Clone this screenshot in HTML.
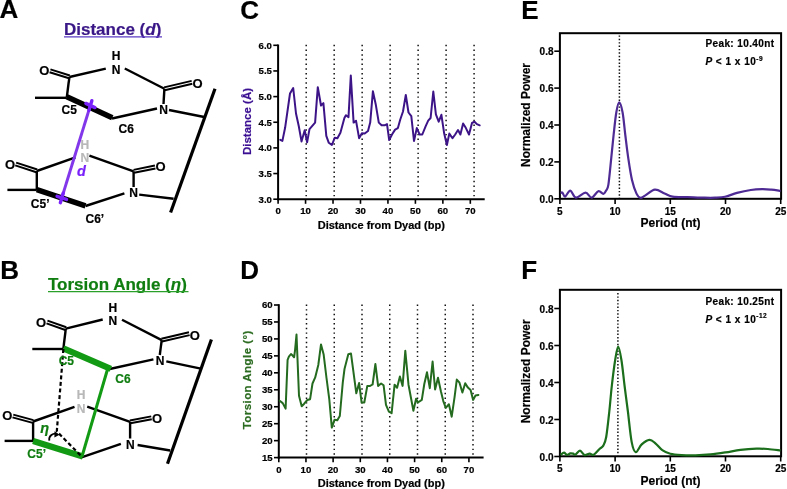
<!DOCTYPE html>
<html><head><meta charset="utf-8"><style>
html,body{margin:0;padding:0;background:#fff;}
svg{display:block;font-family:"Liberation Sans", sans-serif;will-change:transform;}

</style></head><body>
<svg width="787" height="489" viewBox="0 0 787 489">
<rect width="787" height="489" fill="#fff"/>
<text x="-0.40" y="18.30" font-size="26" font-weight="bold" fill="#000" stroke="#000" stroke-width="0.2" text-anchor="start" >A</text>
<text x="0.30" y="279.00" font-size="26" font-weight="bold" fill="#000" stroke="#000" stroke-width="0.2" text-anchor="start" >B</text>
<text x="240.30" y="18.60" font-size="26" font-weight="bold" fill="#000" stroke="#000" stroke-width="0.2" text-anchor="start" >C</text>
<text x="240.30" y="278.60" font-size="26" font-weight="bold" fill="#000" stroke="#000" stroke-width="0.2" text-anchor="start" >D</text>
<text x="521.30" y="18.60" font-size="26" font-weight="bold" fill="#000" stroke="#000" stroke-width="0.2" text-anchor="start" >E</text>
<text x="521.30" y="278.80" font-size="26" font-weight="bold" fill="#000" stroke="#000" stroke-width="0.2" text-anchor="start" >F</text>
<text x="64.00" y="35.00" font-size="17" font-weight="bold" fill="#3a1787" stroke="#3a1787" stroke-width="0.2" text-anchor="start" >Distance (<tspan font-style="italic">d</tspan>)</text>
<line x1="64.00" y1="36.80" x2="162.00" y2="36.80" stroke="#5b3bc4" stroke-width="1.3" />
<line x1="50.43" y1="69.42" x2="69.83" y2="75.52" stroke="#000" stroke-width="2.0" />
<line x1="49.57" y1="72.18" x2="68.97" y2="78.28" stroke="#000" stroke-width="2.0" />
<line x1="69.40" y1="77.00" x2="105.80" y2="68.60" stroke="#000" stroke-width="2.4" />
<line x1="124.80" y1="68.50" x2="164.40" y2="88.80" stroke="#000" stroke-width="2.4" />
<line x1="164.07" y1="87.39" x2="191.67" y2="80.89" stroke="#000" stroke-width="2.0" />
<line x1="164.73" y1="90.21" x2="192.33" y2="83.71" stroke="#000" stroke-width="2.0" />
<line x1="164.40" y1="88.80" x2="163.50" y2="104.00" stroke="#000" stroke-width="2.4" />
<line x1="112.00" y1="118.50" x2="157.00" y2="108.50" stroke="#000" stroke-width="2.4" />
<line x1="169.00" y1="110.00" x2="204.20" y2="117.00" stroke="#000" stroke-width="2.4" />
<line x1="69.40" y1="77.00" x2="66.80" y2="97.20" stroke="#000" stroke-width="2.4" />
<line x1="35.00" y1="97.80" x2="66.80" y2="97.80" stroke="#000" stroke-width="2.4" />
<line x1="66.80" y1="96.80" x2="112.30" y2="117.80" stroke="#000" stroke-width="5.5" />
<line x1="16.15" y1="162.62" x2="37.25" y2="169.52" stroke="#000" stroke-width="2.0" />
<line x1="15.25" y1="165.38" x2="36.35" y2="172.28" stroke="#000" stroke-width="2.0" />
<line x1="36.80" y1="171.00" x2="75.50" y2="157.30" stroke="#000" stroke-width="2.4" />
<line x1="89.40" y1="155.60" x2="133.60" y2="171.30" stroke="#000" stroke-width="2.4" />
<line x1="133.51" y1="169.88" x2="154.91" y2="165.58" stroke="#000" stroke-width="2.0" />
<line x1="134.09" y1="172.72" x2="155.49" y2="168.42" stroke="#000" stroke-width="2.0" />
<line x1="133.60" y1="171.30" x2="133.60" y2="187.00" stroke="#000" stroke-width="2.4" />
<line x1="85.50" y1="206.00" x2="124.40" y2="193.40" stroke="#000" stroke-width="2.4" />
<line x1="139.20" y1="194.60" x2="173.60" y2="198.80" stroke="#000" stroke-width="2.4" />
<line x1="36.80" y1="171.00" x2="36.80" y2="190.00" stroke="#000" stroke-width="2.4" />
<line x1="7.40" y1="189.90" x2="36.80" y2="189.90" stroke="#000" stroke-width="2.4" />
<line x1="36.80" y1="189.60" x2="85.50" y2="205.80" stroke="#000" stroke-width="5.5" />
<line x1="215.00" y1="88.80" x2="170.60" y2="212.50" stroke="#000" stroke-width="3.2" />
<text x="44.30" y="75.00" font-size="13" font-weight="bold" fill="#000" stroke="#000" stroke-width="0.2" text-anchor="middle" >O</text>
<text x="116.00" y="60.20" font-size="12" font-weight="bold" fill="#000" stroke="#000" stroke-width="0.2" text-anchor="middle" >H</text>
<text x="116.00" y="74.00" font-size="12" font-weight="bold" fill="#000" stroke="#000" stroke-width="0.2" text-anchor="middle" >N</text>
<text x="197.60" y="88.20" font-size="13" font-weight="bold" fill="#000" stroke="#000" stroke-width="0.2" text-anchor="middle" >O</text>
<text x="163.50" y="113.60" font-size="12" font-weight="bold" fill="#000" stroke="#000" stroke-width="0.2" text-anchor="middle" >N</text>
<text x="61.50" y="113.70" font-size="12" font-weight="bold" fill="#000" stroke="#000" stroke-width="0.2" text-anchor="start" >C5</text>
<text x="118.60" y="132.80" font-size="12" font-weight="bold" fill="#000" stroke="#000" stroke-width="0.2" text-anchor="start" >C6</text>
<text x="10.10" y="169.00" font-size="13" font-weight="bold" fill="#000" stroke="#000" stroke-width="0.2" text-anchor="middle" >O</text>
<text x="84.80" y="149.40" font-size="12" font-weight="bold" fill="#b8b8b8" stroke="#b8b8b8" stroke-width="0.2" text-anchor="middle" >H</text>
<text x="84.80" y="161.60" font-size="12" font-weight="bold" fill="#b8b8b8" stroke="#b8b8b8" stroke-width="0.2" text-anchor="middle" >N</text>
<text x="160.50" y="171.30" font-size="13" font-weight="bold" fill="#000" stroke="#000" stroke-width="0.2" text-anchor="middle" >O</text>
<text x="133.50" y="197.00" font-size="12" font-weight="bold" fill="#000" stroke="#000" stroke-width="0.2" text-anchor="middle" >N</text>
<text x="30.80" y="207.70" font-size="12" font-weight="bold" fill="#000" stroke="#000" stroke-width="0.2" text-anchor="start" >C5&#8217;</text>
<text x="85.50" y="222.90" font-size="12" font-weight="bold" fill="#000" stroke="#000" stroke-width="0.2" text-anchor="start" >C6&#8217;</text>
<line x1="90.40" y1="105.40" x2="61.80" y2="197.90" stroke="#8238ea" stroke-width="3.0" />
<line x1="85.86" y1="103.40" x2="94.94" y2="107.60" stroke="#7a22fa" stroke-width="3.4" stroke-linecap="round"/>
<line x1="91.86" y1="100.72" x2="88.94" y2="110.28" stroke="#7a22fa" stroke-width="3.4" stroke-linecap="round"/>
<line x1="57.06" y1="196.32" x2="66.54" y2="199.48" stroke="#7a22fa" stroke-width="3.4" stroke-linecap="round"/>
<line x1="63.26" y1="193.12" x2="60.34" y2="202.68" stroke="#7a22fa" stroke-width="3.4" stroke-linecap="round"/>
<text x="77.00" y="176.00" font-size="14.5" font-weight="bold" fill="#7a22fa" stroke="#7a22fa" stroke-width="0.2" text-anchor="start" font-style="italic" >d</text>
<text x="48.00" y="289.80" font-size="17" font-weight="bold" fill="#0f7d10" stroke="#0f7d10" stroke-width="0.2" text-anchor="start" >Torsion Angle (<tspan font-style="italic">&#951;</tspan>)</text>
<line x1="48.00" y1="291.60" x2="188.50" y2="291.60" stroke="#2a9f2a" stroke-width="1.4" />
<line x1="47.48" y1="320.63" x2="66.28" y2="327.23" stroke="#000" stroke-width="2.0" />
<line x1="46.52" y1="323.37" x2="65.32" y2="329.97" stroke="#000" stroke-width="2.0" />
<line x1="65.80" y1="328.60" x2="102.70" y2="319.50" stroke="#000" stroke-width="2.4" />
<line x1="122.00" y1="319.80" x2="161.70" y2="340.10" stroke="#000" stroke-width="2.4" />
<line x1="161.37" y1="338.69" x2="188.97" y2="332.29" stroke="#000" stroke-width="2.0" />
<line x1="162.03" y1="341.51" x2="189.63" y2="335.11" stroke="#000" stroke-width="2.0" />
<line x1="161.70" y1="340.10" x2="159.80" y2="355.00" stroke="#000" stroke-width="2.4" />
<line x1="107.40" y1="369.50" x2="153.40" y2="359.40" stroke="#000" stroke-width="2.4" />
<line x1="166.30" y1="361.30" x2="200.80" y2="368.60" stroke="#000" stroke-width="2.4" />
<line x1="65.80" y1="328.60" x2="63.40" y2="348.50" stroke="#000" stroke-width="2.4" />
<line x1="32.30" y1="349.00" x2="63.40" y2="349.00" stroke="#000" stroke-width="2.4" />
<line x1="13.28" y1="414.60" x2="33.48" y2="420.10" stroke="#000" stroke-width="2.0" />
<line x1="12.52" y1="417.40" x2="32.72" y2="422.90" stroke="#000" stroke-width="2.0" />
<line x1="33.10" y1="421.50" x2="74.50" y2="406.80" stroke="#000" stroke-width="2.4" />
<line x1="87.20" y1="406.60" x2="130.10" y2="421.90" stroke="#000" stroke-width="2.4" />
<line x1="129.83" y1="420.48" x2="151.23" y2="416.38" stroke="#000" stroke-width="2.0" />
<line x1="130.37" y1="423.32" x2="151.77" y2="419.22" stroke="#000" stroke-width="2.0" />
<line x1="130.10" y1="421.90" x2="130.10" y2="438.50" stroke="#000" stroke-width="2.4" />
<line x1="81.50" y1="457.30" x2="120.90" y2="443.80" stroke="#000" stroke-width="2.4" />
<line x1="137.60" y1="445.00" x2="170.20" y2="450.50" stroke="#000" stroke-width="2.4" />
<line x1="33.10" y1="421.50" x2="33.10" y2="441.00" stroke="#000" stroke-width="2.4" />
<line x1="4.60" y1="440.90" x2="33.10" y2="440.90" stroke="#000" stroke-width="2.4" />
<line x1="211.40" y1="339.50" x2="167.50" y2="463.80" stroke="#000" stroke-width="3.2" />
<line x1="63.40" y1="348.40" x2="110.80" y2="368.80" stroke="#129a14" stroke-width="6.2" />
<line x1="33.10" y1="441.00" x2="82.80" y2="456.50" stroke="#129a14" stroke-width="6.2" />
<line x1="107.60" y1="369.00" x2="82.00" y2="456.50" stroke="#129a14" stroke-width="3.0" />
<path d="M63.4,349 L56.8,431.4 L81.6,456.5" fill="none" stroke="#000" stroke-width="2.2" stroke-dasharray="4.0,2.6"/>
<path d="M49.3,440.6 C48.5,436 53,432.6 57.2,434.0" fill="none" stroke="#000" stroke-width="1.8"/>
<path d="M54.5,431.2 L59.5,434.8 L54.4,437.4 Z" fill="#000"/>
<text x="58.70" y="365.40" font-size="12" font-weight="bold" fill="#0f7d10" stroke="#0f7d10" stroke-width="0.2" text-anchor="start" >C5</text>
<text x="115.30" y="383.00" font-size="12" font-weight="bold" fill="#0f7d10" stroke="#0f7d10" stroke-width="0.2" text-anchor="start" >C6</text>
<text x="27.30" y="458.30" font-size="12" font-weight="bold" fill="#0f7d10" stroke="#0f7d10" stroke-width="0.2" text-anchor="start" >C5&#8217;</text>
<text x="40.20" y="432.60" font-size="14.5" font-weight="bold" fill="#0f7d10" stroke="#0f7d10" stroke-width="0.2" text-anchor="start" font-style="italic" >&#951;</text>
<text x="41.10" y="326.90" font-size="13" font-weight="bold" fill="#000" stroke="#000" stroke-width="0.2" text-anchor="middle" >O</text>
<text x="112.90" y="311.80" font-size="12" font-weight="bold" fill="#000" stroke="#000" stroke-width="0.2" text-anchor="middle" >H</text>
<text x="112.90" y="325.30" font-size="12" font-weight="bold" fill="#000" stroke="#000" stroke-width="0.2" text-anchor="middle" >N</text>
<text x="194.80" y="339.50" font-size="13" font-weight="bold" fill="#000" stroke="#000" stroke-width="0.2" text-anchor="middle" >O</text>
<text x="160.20" y="365.30" font-size="12" font-weight="bold" fill="#000" stroke="#000" stroke-width="0.2" text-anchor="middle" >N</text>
<text x="7.40" y="420.00" font-size="13" font-weight="bold" fill="#000" stroke="#000" stroke-width="0.2" text-anchor="middle" >O</text>
<text x="81.00" y="399.40" font-size="12" font-weight="bold" fill="#b8b8b8" stroke="#b8b8b8" stroke-width="0.2" text-anchor="middle" >H</text>
<text x="81.00" y="413.30" font-size="12" font-weight="bold" fill="#b8b8b8" stroke="#b8b8b8" stroke-width="0.2" text-anchor="middle" >N</text>
<text x="157.10" y="422.90" font-size="13" font-weight="bold" fill="#000" stroke="#000" stroke-width="0.2" text-anchor="middle" >O</text>
<text x="130.40" y="448.50" font-size="12" font-weight="bold" fill="#000" stroke="#000" stroke-width="0.2" text-anchor="middle" >N</text>
<line x1="306.2" y1="44.8" x2="306.2" y2="198.5" stroke="#111" stroke-width="1.5" stroke-dasharray="1.45,3.24"/>
<line x1="334.18" y1="44.8" x2="334.18" y2="198.5" stroke="#111" stroke-width="1.5" stroke-dasharray="1.45,3.24"/>
<line x1="362.15999999999997" y1="44.8" x2="362.15999999999997" y2="198.5" stroke="#111" stroke-width="1.5" stroke-dasharray="1.45,3.24"/>
<line x1="390.14" y1="44.8" x2="390.14" y2="198.5" stroke="#111" stroke-width="1.5" stroke-dasharray="1.45,3.24"/>
<line x1="418.12" y1="44.8" x2="418.12" y2="198.5" stroke="#111" stroke-width="1.5" stroke-dasharray="1.45,3.24"/>
<line x1="446.1" y1="44.8" x2="446.1" y2="198.5" stroke="#111" stroke-width="1.5" stroke-dasharray="1.45,3.24"/>
<line x1="474.08" y1="44.8" x2="474.08" y2="198.5" stroke="#111" stroke-width="1.5" stroke-dasharray="1.45,3.24"/>
<line x1="278.10" y1="44.50" x2="278.10" y2="200.20" stroke="#000" stroke-width="2.0" />
<line x1="277.10" y1="199.20" x2="484.70" y2="199.20" stroke="#000" stroke-width="2.0" />
<line x1="273.30" y1="45.30" x2="278.10" y2="45.30" stroke="#000" stroke-width="1.6" />
<text x="271.90" y="48.60" font-size="9.6" font-weight="bold" fill="#000" stroke="#000" stroke-width="0.2" text-anchor="end" >6.0</text>
<line x1="273.30" y1="70.95" x2="278.10" y2="70.95" stroke="#000" stroke-width="1.6" />
<text x="271.90" y="74.25" font-size="9.6" font-weight="bold" fill="#000" stroke="#000" stroke-width="0.2" text-anchor="end" >5.5</text>
<line x1="273.30" y1="96.60" x2="278.10" y2="96.60" stroke="#000" stroke-width="1.6" />
<text x="271.90" y="99.90" font-size="9.6" font-weight="bold" fill="#000" stroke="#000" stroke-width="0.2" text-anchor="end" >5.0</text>
<line x1="273.30" y1="122.25" x2="278.10" y2="122.25" stroke="#000" stroke-width="1.6" />
<text x="271.90" y="125.55" font-size="9.6" font-weight="bold" fill="#000" stroke="#000" stroke-width="0.2" text-anchor="end" >4.5</text>
<line x1="273.30" y1="147.90" x2="278.10" y2="147.90" stroke="#000" stroke-width="1.6" />
<text x="271.90" y="151.20" font-size="9.6" font-weight="bold" fill="#000" stroke="#000" stroke-width="0.2" text-anchor="end" >4.0</text>
<line x1="273.30" y1="173.55" x2="278.10" y2="173.55" stroke="#000" stroke-width="1.6" />
<text x="271.90" y="176.85" font-size="9.6" font-weight="bold" fill="#000" stroke="#000" stroke-width="0.2" text-anchor="end" >3.5</text>
<line x1="273.30" y1="199.20" x2="278.10" y2="199.20" stroke="#000" stroke-width="1.6" />
<text x="271.90" y="202.50" font-size="9.6" font-weight="bold" fill="#000" stroke="#000" stroke-width="0.2" text-anchor="end" >3.0</text>
<line x1="278.10" y1="199.20" x2="278.10" y2="203.80" stroke="#000" stroke-width="1.6" />
<text x="278.10" y="214.40" font-size="9.6" font-weight="bold" fill="#000" stroke="#000" stroke-width="0.2" text-anchor="middle" >0</text>
<line x1="305.56" y1="199.20" x2="305.56" y2="203.80" stroke="#000" stroke-width="1.6" />
<text x="305.56" y="214.40" font-size="9.6" font-weight="bold" fill="#000" stroke="#000" stroke-width="0.2" text-anchor="middle" >10</text>
<line x1="333.02" y1="199.20" x2="333.02" y2="203.80" stroke="#000" stroke-width="1.6" />
<text x="333.02" y="214.40" font-size="9.6" font-weight="bold" fill="#000" stroke="#000" stroke-width="0.2" text-anchor="middle" >20</text>
<line x1="360.48" y1="199.20" x2="360.48" y2="203.80" stroke="#000" stroke-width="1.6" />
<text x="360.48" y="214.40" font-size="9.6" font-weight="bold" fill="#000" stroke="#000" stroke-width="0.2" text-anchor="middle" >30</text>
<line x1="387.94" y1="199.20" x2="387.94" y2="203.80" stroke="#000" stroke-width="1.6" />
<text x="387.94" y="214.40" font-size="9.6" font-weight="bold" fill="#000" stroke="#000" stroke-width="0.2" text-anchor="middle" >40</text>
<line x1="415.40" y1="199.20" x2="415.40" y2="203.80" stroke="#000" stroke-width="1.6" />
<text x="415.40" y="214.40" font-size="9.6" font-weight="bold" fill="#000" stroke="#000" stroke-width="0.2" text-anchor="middle" >50</text>
<line x1="442.86" y1="199.20" x2="442.86" y2="203.80" stroke="#000" stroke-width="1.6" />
<text x="442.86" y="214.40" font-size="9.6" font-weight="bold" fill="#000" stroke="#000" stroke-width="0.2" text-anchor="middle" >60</text>
<line x1="470.32" y1="199.20" x2="470.32" y2="203.80" stroke="#000" stroke-width="1.6" />
<text x="470.32" y="214.40" font-size="9.6" font-weight="bold" fill="#000" stroke="#000" stroke-width="0.2" text-anchor="middle" >70</text>
<polyline points="280.3,139.8 282.4,140.9 285.1,127.8 290.0,93.5 293.2,88.0 296.0,113.5 298.8,126.3 301.5,141.4 304.7,130.2 307.1,142.2 309.5,129.1 315.1,122.7 317.8,87.2 321.0,105.5 323.4,103.1 326.3,135.8 328.8,142.8 331.9,145.0 334.8,137.7 337.4,138.2 340.4,132.7 344.4,118.0 345.9,115.2 348.5,117.1 350.8,75.6 353.6,122.6 356.0,120.7 359.1,138.2 361.9,133.3 364.7,133.6 368.0,130.9 370.2,122.6 372.9,91.3 375.7,104.2 378.8,122.6 381.6,125.3 384.6,125.3 387.0,124.1 389.2,140.0 392.0,134.5 395.1,129.6 397.9,128.1 400.2,119.8 403.0,111.5 405.8,95.0 408.5,112.5 411.3,116.1 414.0,141.0 416.8,128.1 419.6,134.5 422.3,134.5 425.6,126.3 428.2,120.7 430.6,118.0 433.3,91.5 435.9,114.3 438.7,121.7 441.4,114.8 444.2,133.6 446.9,145.0 449.3,133.6 452.5,138.2 455.2,134.5 458.0,130.0 460.4,134.5 463.1,123.5 465.9,128.1 469.0,134.5 472.0,123.0 474.5,121.7 476.9,124.1 479.7,125.3" fill="none" stroke="#3d1488" stroke-width="2.0" stroke-linejoin="round" stroke-linecap="round"/>
<text transform="translate(251.3,121.5) rotate(-90)" font-size="11.5" font-weight="bold" fill="#3a0f92" stroke="#3a0f92" stroke-width="0.2" text-anchor="middle">Distance (&#197;)</text>
<text x="381.30" y="228.90" font-size="11" font-weight="bold" fill="#000" stroke="#000" stroke-width="0.2" text-anchor="middle" >Distance from Dyad (bp)</text>
<line x1="306.5" y1="304.5" x2="306.5" y2="456.5" stroke="#111" stroke-width="1.5" stroke-dasharray="1.45,3.2"/>
<line x1="334.25" y1="304.5" x2="334.25" y2="456.5" stroke="#111" stroke-width="1.5" stroke-dasharray="1.45,3.2"/>
<line x1="362.0" y1="304.5" x2="362.0" y2="456.5" stroke="#111" stroke-width="1.5" stroke-dasharray="1.45,3.2"/>
<line x1="389.75" y1="304.5" x2="389.75" y2="456.5" stroke="#111" stroke-width="1.5" stroke-dasharray="1.45,3.2"/>
<line x1="417.5" y1="304.5" x2="417.5" y2="456.5" stroke="#111" stroke-width="1.5" stroke-dasharray="1.45,3.2"/>
<line x1="445.25" y1="304.5" x2="445.25" y2="456.5" stroke="#111" stroke-width="1.5" stroke-dasharray="1.45,3.2"/>
<line x1="473.0" y1="304.5" x2="473.0" y2="456.5" stroke="#111" stroke-width="1.5" stroke-dasharray="1.45,3.2"/>
<line x1="278.80" y1="304.20" x2="278.80" y2="458.60" stroke="#000" stroke-width="2.0" />
<line x1="277.80" y1="457.60" x2="483.60" y2="457.60" stroke="#000" stroke-width="2.0" />
<line x1="274.00" y1="305.00" x2="278.80" y2="305.00" stroke="#000" stroke-width="1.6" />
<text x="272.60" y="308.30" font-size="9.6" font-weight="bold" fill="#000" stroke="#000" stroke-width="0.2" text-anchor="end" >60</text>
<line x1="274.00" y1="321.96" x2="278.80" y2="321.96" stroke="#000" stroke-width="1.6" />
<text x="272.60" y="325.26" font-size="9.6" font-weight="bold" fill="#000" stroke="#000" stroke-width="0.2" text-anchor="end" >55</text>
<line x1="274.00" y1="338.91" x2="278.80" y2="338.91" stroke="#000" stroke-width="1.6" />
<text x="272.60" y="342.21" font-size="9.6" font-weight="bold" fill="#000" stroke="#000" stroke-width="0.2" text-anchor="end" >50</text>
<line x1="274.00" y1="355.87" x2="278.80" y2="355.87" stroke="#000" stroke-width="1.6" />
<text x="272.60" y="359.17" font-size="9.6" font-weight="bold" fill="#000" stroke="#000" stroke-width="0.2" text-anchor="end" >45</text>
<line x1="274.00" y1="372.82" x2="278.80" y2="372.82" stroke="#000" stroke-width="1.6" />
<text x="272.60" y="376.12" font-size="9.6" font-weight="bold" fill="#000" stroke="#000" stroke-width="0.2" text-anchor="end" >40</text>
<line x1="274.00" y1="389.78" x2="278.80" y2="389.78" stroke="#000" stroke-width="1.6" />
<text x="272.60" y="393.08" font-size="9.6" font-weight="bold" fill="#000" stroke="#000" stroke-width="0.2" text-anchor="end" >35</text>
<line x1="274.00" y1="406.73" x2="278.80" y2="406.73" stroke="#000" stroke-width="1.6" />
<text x="272.60" y="410.03" font-size="9.6" font-weight="bold" fill="#000" stroke="#000" stroke-width="0.2" text-anchor="end" >30</text>
<line x1="274.00" y1="423.69" x2="278.80" y2="423.69" stroke="#000" stroke-width="1.6" />
<text x="272.60" y="426.99" font-size="9.6" font-weight="bold" fill="#000" stroke="#000" stroke-width="0.2" text-anchor="end" >25</text>
<line x1="274.00" y1="440.64" x2="278.80" y2="440.64" stroke="#000" stroke-width="1.6" />
<text x="272.60" y="443.94" font-size="9.6" font-weight="bold" fill="#000" stroke="#000" stroke-width="0.2" text-anchor="end" >20</text>
<line x1="274.00" y1="457.60" x2="278.80" y2="457.60" stroke="#000" stroke-width="1.6" />
<text x="272.60" y="460.90" font-size="9.6" font-weight="bold" fill="#000" stroke="#000" stroke-width="0.2" text-anchor="end" >15</text>
<line x1="278.80" y1="457.60" x2="278.80" y2="462.20" stroke="#000" stroke-width="1.6" />
<text x="278.80" y="472.80" font-size="9.6" font-weight="bold" fill="#000" stroke="#000" stroke-width="0.2" text-anchor="middle" >0</text>
<line x1="305.96" y1="457.60" x2="305.96" y2="462.20" stroke="#000" stroke-width="1.6" />
<text x="305.96" y="472.80" font-size="9.6" font-weight="bold" fill="#000" stroke="#000" stroke-width="0.2" text-anchor="middle" >10</text>
<line x1="333.12" y1="457.60" x2="333.12" y2="462.20" stroke="#000" stroke-width="1.6" />
<text x="333.12" y="472.80" font-size="9.6" font-weight="bold" fill="#000" stroke="#000" stroke-width="0.2" text-anchor="middle" >20</text>
<line x1="360.28" y1="457.60" x2="360.28" y2="462.20" stroke="#000" stroke-width="1.6" />
<text x="360.28" y="472.80" font-size="9.6" font-weight="bold" fill="#000" stroke="#000" stroke-width="0.2" text-anchor="middle" >30</text>
<line x1="387.44" y1="457.60" x2="387.44" y2="462.20" stroke="#000" stroke-width="1.6" />
<text x="387.44" y="472.80" font-size="9.6" font-weight="bold" fill="#000" stroke="#000" stroke-width="0.2" text-anchor="middle" >40</text>
<line x1="414.60" y1="457.60" x2="414.60" y2="462.20" stroke="#000" stroke-width="1.6" />
<text x="414.60" y="472.80" font-size="9.6" font-weight="bold" fill="#000" stroke="#000" stroke-width="0.2" text-anchor="middle" >50</text>
<line x1="441.76" y1="457.60" x2="441.76" y2="462.20" stroke="#000" stroke-width="1.6" />
<text x="441.76" y="472.80" font-size="9.6" font-weight="bold" fill="#000" stroke="#000" stroke-width="0.2" text-anchor="middle" >60</text>
<line x1="468.92" y1="457.60" x2="468.92" y2="462.20" stroke="#000" stroke-width="1.6" />
<text x="468.92" y="472.80" font-size="9.6" font-weight="bold" fill="#000" stroke="#000" stroke-width="0.2" text-anchor="middle" >70</text>
<polyline points="279.7,400.7 282.7,403.1 285.6,408.6 287.6,359.8 288.9,356.7 291.0,354.0 292.6,355.5 294.1,357.3 295.0,350.6 296.5,334.6 299.0,395.7 301.7,406.2 304.2,403.7 307.3,400.0 310.1,399.2 312.5,383.5 315.2,377.4 318.3,365.0 321.0,344.4 323.6,354.2 326.5,378.0 329.3,399.4 331.8,427.6 334.6,419.7 337.3,420.3 339.8,416.0 342.8,382.3 344.5,369.0 348.3,354.2 351.0,353.6 356.3,393.3 359.1,382.9 361.6,402.5 364.3,402.5 367.3,385.9 370.1,385.9 372.6,384.5 375.4,364.0 378.1,385.9 381.1,383.5 383.6,385.3 386.0,404.9 388.9,411.7 391.6,413.2 394.6,384.7 397.1,387.8 399.9,376.4 402.6,385.9 405.3,350.8 408.5,384.7 413.4,410.7 416.1,398.8 417.9,402.5 421.8,399.9 424.3,384.0 427.0,372.3 429.8,388.2 432.6,361.5 435.1,389.5 438.0,377.8 440.9,391.3 443.3,401.1 445.8,407.9 448.9,404.2 451.7,416.7 454.6,396.8 456.8,379.6 459.5,382.7 462.4,392.5 465.2,383.3 467.9,387.6 470.6,390.1 473.1,399.9 475.5,395.6 478.4,395.0" fill="none" stroke="#246b1f" stroke-width="2.0" stroke-linejoin="round" stroke-linecap="round"/>
<text transform="translate(251.3,379.8) rotate(-90)" font-size="11.5" font-weight="bold" fill="#2b6b20" stroke="#2b6b20" stroke-width="0.2" letter-spacing="0.45" text-anchor="middle">Torsion Angle (&#176;)</text>
<text x="381.30" y="487.30" font-size="11" font-weight="bold" fill="#000" stroke="#000" stroke-width="0.2" text-anchor="middle" >Distance from Dyad (bp)</text>
<line x1="619.4" y1="35.4" x2="619.4" y2="198" stroke="#111" stroke-width="1.5" stroke-dasharray="1.45,1.93"/>
<rect x="559.9" y="33.2" width="221.20" height="165.60" fill="none" stroke="#000" stroke-width="2"/>
<line x1="554.30" y1="198.80" x2="559.90" y2="198.80" stroke="#000" stroke-width="1.6" />
<text x="553.50" y="202.90" font-size="10" font-weight="bold" fill="#000" stroke="#000" stroke-width="0.2" text-anchor="end" >0.0</text>
<line x1="554.30" y1="161.90" x2="559.90" y2="161.90" stroke="#000" stroke-width="1.6" />
<text x="553.50" y="166.00" font-size="10" font-weight="bold" fill="#000" stroke="#000" stroke-width="0.2" text-anchor="end" >0.2</text>
<line x1="554.30" y1="125.00" x2="559.90" y2="125.00" stroke="#000" stroke-width="1.6" />
<text x="553.50" y="129.10" font-size="10" font-weight="bold" fill="#000" stroke="#000" stroke-width="0.2" text-anchor="end" >0.4</text>
<line x1="554.30" y1="88.10" x2="559.90" y2="88.10" stroke="#000" stroke-width="1.6" />
<text x="553.50" y="92.20" font-size="10" font-weight="bold" fill="#000" stroke="#000" stroke-width="0.2" text-anchor="end" >0.6</text>
<line x1="554.30" y1="51.20" x2="559.90" y2="51.20" stroke="#000" stroke-width="1.6" />
<text x="553.50" y="55.30" font-size="10" font-weight="bold" fill="#000" stroke="#000" stroke-width="0.2" text-anchor="end" >0.8</text>
<line x1="559.90" y1="198.80" x2="559.90" y2="204.00" stroke="#000" stroke-width="1.6" />
<text x="559.90" y="214.80" font-size="10" font-weight="bold" fill="#000" stroke="#000" stroke-width="0.2" text-anchor="middle" >5</text>
<line x1="615.10" y1="198.80" x2="615.10" y2="204.00" stroke="#000" stroke-width="1.6" />
<text x="615.10" y="214.80" font-size="10" font-weight="bold" fill="#000" stroke="#000" stroke-width="0.2" text-anchor="middle" >10</text>
<line x1="670.30" y1="198.80" x2="670.30" y2="204.00" stroke="#000" stroke-width="1.6" />
<text x="670.30" y="214.80" font-size="10" font-weight="bold" fill="#000" stroke="#000" stroke-width="0.2" text-anchor="middle" >15</text>
<line x1="725.50" y1="198.80" x2="725.50" y2="204.00" stroke="#000" stroke-width="1.6" />
<text x="725.50" y="214.80" font-size="10" font-weight="bold" fill="#000" stroke="#000" stroke-width="0.2" text-anchor="middle" >20</text>
<line x1="780.70" y1="198.80" x2="780.70" y2="204.00" stroke="#000" stroke-width="1.6" />
<text x="780.70" y="214.80" font-size="10" font-weight="bold" fill="#000" stroke="#000" stroke-width="0.2" text-anchor="middle" >25</text>
<path d="M560.60,193.00 C560.90,192.93 561.65,192.00 562.40,192.60 C563.15,193.20 563.78,196.93 565.10,196.60 C566.42,196.27 568.48,190.43 570.30,190.60 C572.12,190.77 573.47,197.27 576.00,197.60 C578.53,197.93 582.88,192.60 585.50,192.60 C588.12,192.60 589.57,197.83 591.70,197.60 C593.83,197.37 596.37,191.83 598.30,191.20 C600.23,190.57 602.00,193.92 603.30,193.80 C604.60,193.68 605.25,192.03 606.10,190.50 C606.95,188.97 607.53,190.08 608.40,184.60 C609.27,179.12 610.43,165.87 611.30,157.60 C612.17,149.33 612.77,142.52 613.60,135.00 C614.43,127.48 615.37,117.93 616.30,112.50 C617.23,107.07 618.15,102.40 619.20,102.40 C620.25,102.40 621.58,107.07 622.60,112.50 C623.62,117.93 624.37,127.48 625.30,135.00 C626.23,142.52 627.08,150.10 628.20,157.60 C629.32,165.10 630.62,174.00 632.00,180.00 C633.38,186.00 635.10,190.63 636.50,193.60 C637.90,196.57 638.98,197.47 640.40,197.80 C641.82,198.13 642.58,196.95 645.00,195.60 C647.42,194.25 651.63,190.07 654.90,189.70 C658.17,189.33 661.65,192.25 664.60,193.40 C667.55,194.55 668.78,195.98 672.60,196.60 C676.42,197.22 682.17,196.92 687.50,197.10 C692.83,197.28 700.02,197.60 704.60,197.70 C709.18,197.80 711.60,197.85 715.00,197.70 C718.40,197.55 721.33,197.60 725.00,196.80 C728.67,196.00 732.70,194.03 737.00,192.90 C741.30,191.77 746.60,190.62 750.80,190.00 C755.00,189.38 758.78,189.25 762.20,189.20 C765.62,189.15 768.25,189.42 771.30,189.70 C774.35,189.98 778.97,190.70 780.50,190.90" fill="none" stroke="#4e2b94" stroke-width="2.2"/>
<text transform="translate(530.2,115) rotate(-90)" font-size="12" font-weight="bold" fill="#000" stroke="#000" stroke-width="0.2" text-anchor="middle">Normalized Power</text>
<text x="670.50" y="227.00" font-size="12" font-weight="bold" fill="#000" stroke="#000" stroke-width="0.2" text-anchor="middle" >Period (nt)</text>
<text x="705.40" y="47.10" font-size="10" font-weight="bold" fill="#000" stroke="#000" stroke-width="0.2" text-anchor="start" letter-spacing="0.4">Peak: 10.40nt</text>
<text x="705.4" y="65.3" font-size="10" font-weight="bold" fill="#000" stroke="#000" stroke-width="0.2" letter-spacing="0.5"><tspan font-style="italic">P</tspan> &lt; 1 x 10<tspan font-size="6.5" dy="-4.2">-9</tspan></text>
<line x1="617.9" y1="293.0" x2="617.9" y2="455.5" stroke="#111" stroke-width="1.5" stroke-dasharray="1.45,1.93"/>
<rect x="559.9" y="289.8" width="221.20" height="166.50" fill="none" stroke="#000" stroke-width="2"/>
<line x1="554.30" y1="456.50" x2="559.90" y2="456.50" stroke="#000" stroke-width="1.6" />
<text x="553.50" y="460.60" font-size="10" font-weight="bold" fill="#000" stroke="#000" stroke-width="0.2" text-anchor="end" >0.0</text>
<line x1="554.30" y1="419.50" x2="559.90" y2="419.50" stroke="#000" stroke-width="1.6" />
<text x="553.50" y="423.60" font-size="10" font-weight="bold" fill="#000" stroke="#000" stroke-width="0.2" text-anchor="end" >0.2</text>
<line x1="554.30" y1="382.50" x2="559.90" y2="382.50" stroke="#000" stroke-width="1.6" />
<text x="553.50" y="386.60" font-size="10" font-weight="bold" fill="#000" stroke="#000" stroke-width="0.2" text-anchor="end" >0.4</text>
<line x1="554.30" y1="345.50" x2="559.90" y2="345.50" stroke="#000" stroke-width="1.6" />
<text x="553.50" y="349.60" font-size="10" font-weight="bold" fill="#000" stroke="#000" stroke-width="0.2" text-anchor="end" >0.6</text>
<line x1="554.30" y1="308.50" x2="559.90" y2="308.50" stroke="#000" stroke-width="1.6" />
<text x="553.50" y="312.60" font-size="10" font-weight="bold" fill="#000" stroke="#000" stroke-width="0.2" text-anchor="end" >0.8</text>
<line x1="559.90" y1="456.30" x2="559.90" y2="461.50" stroke="#000" stroke-width="1.6" />
<text x="559.90" y="472.30" font-size="10" font-weight="bold" fill="#000" stroke="#000" stroke-width="0.2" text-anchor="middle" >5</text>
<line x1="615.10" y1="456.30" x2="615.10" y2="461.50" stroke="#000" stroke-width="1.6" />
<text x="615.10" y="472.30" font-size="10" font-weight="bold" fill="#000" stroke="#000" stroke-width="0.2" text-anchor="middle" >10</text>
<line x1="670.30" y1="456.30" x2="670.30" y2="461.50" stroke="#000" stroke-width="1.6" />
<text x="670.30" y="472.30" font-size="10" font-weight="bold" fill="#000" stroke="#000" stroke-width="0.2" text-anchor="middle" >15</text>
<line x1="725.50" y1="456.30" x2="725.50" y2="461.50" stroke="#000" stroke-width="1.6" />
<text x="725.50" y="472.30" font-size="10" font-weight="bold" fill="#000" stroke="#000" stroke-width="0.2" text-anchor="middle" >20</text>
<line x1="780.70" y1="456.30" x2="780.70" y2="461.50" stroke="#000" stroke-width="1.6" />
<text x="780.70" y="472.30" font-size="10" font-weight="bold" fill="#000" stroke="#000" stroke-width="0.2" text-anchor="middle" >25</text>
<path d="M560.60,455.00 C561.17,454.62 562.95,452.73 564.00,452.70 C565.05,452.67 565.85,454.68 566.90,454.80 C567.95,454.92 569.25,453.60 570.30,453.40 C571.35,453.20 572.35,453.40 573.20,453.60 C574.05,453.80 574.27,455.08 575.40,454.60 C576.53,454.12 578.47,450.62 580.00,450.70 C581.53,450.78 582.98,454.62 584.60,455.10 C586.22,455.58 588.18,453.65 589.70,453.60 C591.22,453.55 592.07,455.57 593.70,454.80 C595.33,454.03 597.90,450.53 599.50,449.00 C601.10,447.47 602.18,447.60 603.30,445.60 C604.42,443.60 605.20,442.68 606.20,437.00 C607.20,431.32 608.37,420.00 609.30,411.50 C610.23,403.00 610.83,394.50 611.80,386.00 C612.77,377.50 614.03,367.08 615.10,360.50 C616.17,353.92 617.13,346.50 618.20,346.50 C619.27,346.50 620.43,353.92 621.50,360.50 C622.57,367.08 623.53,377.50 624.60,386.00 C625.67,394.50 626.72,402.15 627.90,411.50 C629.08,420.85 630.38,435.32 631.70,442.10 C633.02,448.88 634.13,451.82 635.80,452.20 C637.47,452.58 639.42,446.45 641.70,444.40 C643.98,442.35 647.22,440.08 649.50,439.90 C651.78,439.72 653.27,441.58 655.40,443.30 C657.53,445.02 659.82,448.45 662.30,450.20 C664.78,451.95 667.07,452.98 670.30,453.80 C673.53,454.62 677.50,454.85 681.70,455.10 C685.90,455.35 690.70,455.42 695.50,455.30 C700.30,455.18 705.48,454.88 710.50,454.40 C715.52,453.92 720.60,453.15 725.60,452.40 C730.60,451.65 735.35,450.52 740.50,449.90 C745.65,449.28 751.93,448.85 756.50,448.70 C761.07,448.55 763.90,448.72 767.90,449.00 C771.90,449.28 778.40,450.17 780.50,450.40" fill="none" stroke="#1b6e1b" stroke-width="2.2"/>
<text transform="translate(530.2,371.3) rotate(-90)" font-size="12" font-weight="bold" fill="#000" stroke="#000" stroke-width="0.2" text-anchor="middle">Normalized Power</text>
<text x="670.50" y="484.70" font-size="12" font-weight="bold" fill="#000" stroke="#000" stroke-width="0.2" text-anchor="middle" >Period (nt)</text>
<text x="705.40" y="304.70" font-size="10" font-weight="bold" fill="#000" stroke="#000" stroke-width="0.2" text-anchor="start" letter-spacing="0.4">Peak: 10.25nt</text>
<text x="705.4" y="322.5" font-size="10" font-weight="bold" fill="#000" stroke="#000" stroke-width="0.2" letter-spacing="0.5"><tspan font-style="italic">P</tspan> &lt; 1 x 10<tspan font-size="6.5" dy="-4.2">-12</tspan></text>
</svg>
</body></html>
